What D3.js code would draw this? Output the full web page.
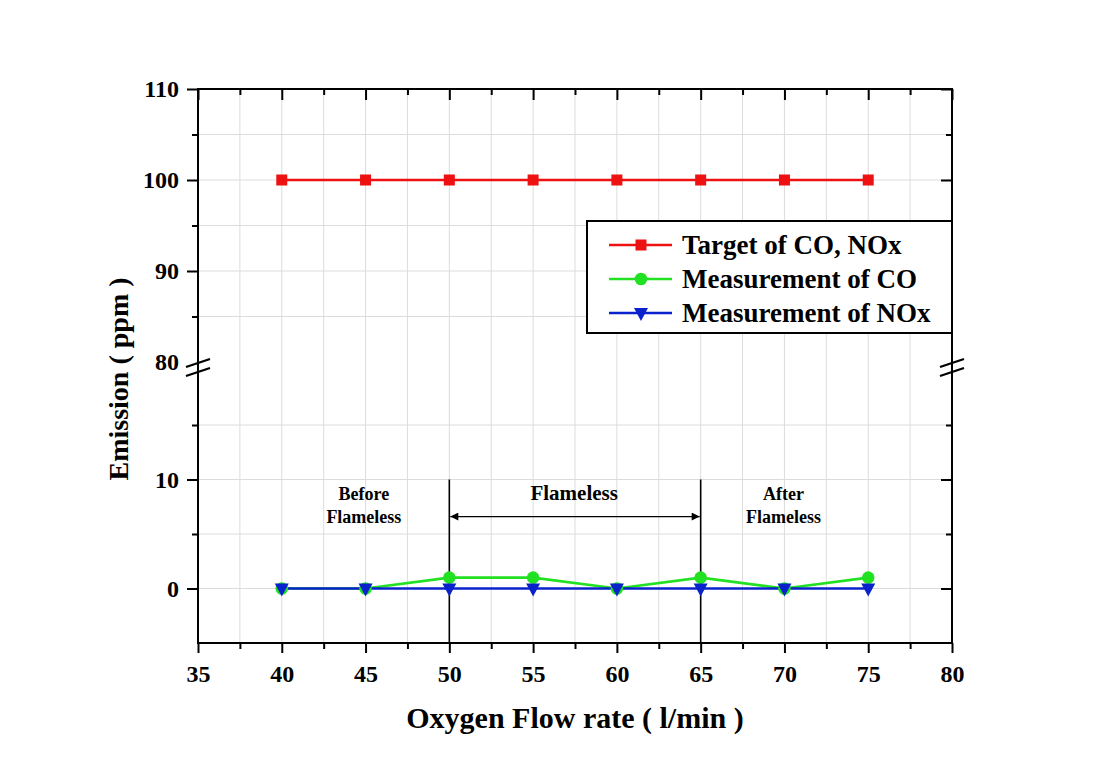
<!DOCTYPE html>
<html><head><meta charset="utf-8">
<script src="https://cdn.jsdelivr.net/npm/d3@7"></script>
<style>body{margin:0;background:#fff}svg{display:block}</style>
</head><body><svg id="c" width="1106" height="773"></svg>
<script>
const flow = [40, 45, 50, 55, 60, 65, 70, 75];
const targetCO_NOx = [100, 100, 100, 100, 100, 100, 100, 100];
const measCO = [0, 0, 1, 1, 0, 1, 0, 1];
const measNOx = [0, 0, 0, 0, 0, 0, 0, 0];
const xTicks = [35, 40, 45, 50, 55, 60, 65, 70, 75, 80];
const yUpperTicks = [80, 90, 100, 110];
const yLowerTicks = [0, 10];
const seriesNames = ["Target of CO, NOx", "Measurement of CO", "Measurement of NOx"];
const regionLabels = [["Before", "Flameless"], ["Flameless"], ["After", "Flameless"]];

const FONT = "'Liberation Serif','Times New Roman',serif";
const svg = d3.select("#c");
const L = 198, R = 952, T = 89, B = 643;
const x = d3.scaleLinear().domain([35, 80]).range([L, R]);
const yUp = d3.scaleLinear().domain([80, 110]).range([362, T]);
const yLow = d3.scaleLinear().domain([-5, 20]).range([B, 370.5]);
const y = v => v >= 50 ? yUp(v) : yLow(v);

const colors = ["#ee1111", "#22e022", "#0a22cc"];

// grid
const g = svg.append("g");
const xMinor = d3.range(37.5, 80, 2.5);
g.selectAll(".vg").data(xMinor).join("line")
  .attr("x1", d => x(d)).attr("x2", d => x(d)).attr("y1", T).attr("y2", B)
  .attr("stroke", "#dcdcdc").attr("stroke-width", 1);
const hUp = [85, 90, 95, 100, 105], hLow = [0, 5, 10, 15];
g.selectAll(".hu").data(hUp).join("line")
  .attr("x1", L).attr("x2", R).attr("y1", d => yUp(d)).attr("y2", d => yUp(d))
  .attr("stroke", "#dcdcdc");
g.selectAll(".hl").data(hLow).join("line")
  .attr("x1", L).attr("x2", R).attr("y1", d => yLow(d)).attr("y2", d => yLow(d))
  .attr("stroke", "#dcdcdc");

function styleAxis(sel) {
  sel.select(".domain").remove();
  sel.selectAll("line").attr("stroke", "#000").attr("stroke-width", 2);
  sel.selectAll("text").attr("font-family", FONT).attr("font-weight", "bold").attr("font-size", 24).attr("fill", "#000");
}
const xMinorOnly = xMinor.filter(d => d % 5 !== 0);
// bottom
svg.append("g").attr("transform", `translate(0,${B})`)
  .call(d3.axisBottom(x).tickValues(xTicks).tickSize(10).tickPadding(12)).call(styleAxis);
svg.append("g").attr("transform", `translate(0,${B})`)
  .call(d3.axisBottom(x).tickValues(xMinorOnly).tickSize(6).tickFormat("")).call(styleAxis);
// top (inward)
svg.append("g").attr("transform", `translate(0,${T})`)
  .call(d3.axisTop(x).tickValues(xTicks).tickSize(-11).tickFormat("")).call(styleAxis);
svg.append("g").attr("transform", `translate(0,${T})`)
  .call(d3.axisTop(x).tickValues(xMinorOnly).tickSize(-6).tickFormat("")).call(styleAxis);
// left
svg.append("g").attr("transform", `translate(${L},0)`)
  .call(d3.axisLeft(yUp).tickValues(yUpperTicks.filter(d => d > 80)).tickSize(11).tickPadding(8)).call(styleAxis);
svg.append("g").attr("transform", `translate(${L},0)`)
  .call(d3.axisLeft(yUp).tickValues([80]).tickSize(0).tickPadding(19)).call(styleAxis);
svg.append("g").attr("transform", `translate(${L},0)`)
  .call(d3.axisLeft(yUp).tickValues([85, 95, 105]).tickSize(6).tickFormat("")).call(styleAxis);
svg.append("g").attr("transform", `translate(${L},0)`)
  .call(d3.axisLeft(yLow).tickValues(yLowerTicks).tickSize(11).tickPadding(8)).call(styleAxis);
svg.append("g").attr("transform", `translate(${L},0)`)
  .call(d3.axisLeft(yLow).tickValues([5, 15]).tickSize(6).tickFormat("")).call(styleAxis);
// right (inward)
svg.append("g").attr("transform", `translate(${R},0)`)
  .call(d3.axisLeft(yUp).tickValues([90, 100, 110]).tickSize(11).tickFormat("")).call(styleAxis);
svg.append("g").attr("transform", `translate(${R},0)`)
  .call(d3.axisLeft(yUp).tickValues([85, 95, 105]).tickSize(6).tickFormat("")).call(styleAxis);
svg.append("g").attr("transform", `translate(${R},0)`)
  .call(d3.axisLeft(yLow).tickValues(yLowerTicks).tickSize(11).tickFormat("")).call(styleAxis);
svg.append("g").attr("transform", `translate(${R},0)`)
  .call(d3.axisLeft(yLow).tickValues([5, 15]).tickSize(6).tickFormat("")).call(styleAxis);

// frame
svg.append("rect").attr("x", L).attr("y", T).attr("width", R - L).attr("height", B - T)
  .attr("fill", "none").attr("stroke", "#000").attr("stroke-width", 2);

// break marks
[L, R].forEach(ax => {
  [363, 372].forEach(cy => {
    svg.append("line").attr("x1", ax - 12).attr("y1", cy + 4).attr("x2", ax + 12).attr("y2", cy - 4)
      .attr("stroke", "#000").attr("stroke-width", 2.2);
  });
});

// region lines and arrow
[50, 65].forEach(v => {
  svg.append("line").attr("x1", x(v)).attr("x2", x(v)).attr("y1", yLow(10)).attr("y2", B)
    .attr("stroke", "#000").attr("stroke-width", 1.6);
});
const defs = svg.append("defs");
defs.append("marker").attr("id", "ah").attr("viewBox", "0 0 10 10").attr("refX", 10).attr("refY", 5)
  .attr("markerWidth", 14).attr("markerHeight", 8).attr("markerUnits", "userSpaceOnUse").attr("orient", "auto-start-reverse")
  .append("path").attr("d", "M0,0 L10,5 L0,10 Z").attr("fill", "#000");
svg.append("line").attr("x1", x(50) + 1).attr("x2", x(65) - 1).attr("y1", yLow(6.6)).attr("y2", yLow(6.6))
  .attr("stroke", "#000").attr("stroke-width", 1.3)
  .attr("marker-start", "url(#ah)").attr("marker-end", "url(#ah)");

// region labels
const labelPos = [[44.9, 18], [57.45, 21], [69.95, 18]];
regionLabels.forEach((lines, i) => {
  const t = svg.append("text").attr("x", x(labelPos[i][0])).attr("text-anchor", "middle")
    .attr("font-family", FONT).attr("font-weight", "bold").attr("font-size", labelPos[i][1]);
  lines.forEach((s, j) => t.append("tspan").attr("x", x(labelPos[i][0])).attr("y", 500 + j * 23).text(s));
});

// series
const data = [targetCO_NOx, measCO, measNOx];
const line = d3.line().x(d => x(d[0])).y(d => y(d[1]));
data.forEach((vals, i) => {
  svg.append("path").datum(flow.map((f, k) => [f, vals[k]]))
    .attr("d", line).attr("fill", "none").attr("stroke", colors[i]).attr("stroke-width", 2.6);
});
function marker(sel, i, cx, cy) {
  if (i === 0) sel.append("rect").attr("x", cx - 5.5).attr("y", cy - 5.5).attr("width", 11).attr("height", 11).attr("fill", colors[0]);
  else if (i === 1) sel.append("circle").attr("cx", cx).attr("cy", cy).attr("r", 6.3).attr("fill", colors[1]);
  else sel.append("path").attr("d", `M${cx - 7},${cy - 5} L${cx + 7},${cy - 5} L${cx},${cy + 8} Z`).attr("fill", colors[2]);
}
data.forEach((vals, i) => {
  const gm = svg.append("g");
  flow.forEach((f, k) => marker(gm, i, x(f), y(vals[k])));
});

// legend
const lg = svg.append("g");
lg.append("rect").attr("x", 587).attr("y", 221).attr("width", R - 587).attr("height", 112)
  .attr("fill", "#fff").attr("stroke", "#000").attr("stroke-width", 2);
seriesNames.forEach((n, i) => {
  const cy = 245 + i * 34;
  lg.append("line").attr("x1", 609).attr("x2", 672).attr("y1", cy).attr("y2", cy)
    .attr("stroke", colors[i]).attr("stroke-width", 2.6);
  marker(lg, i, 641, cy);
  lg.append("text").attr("x", 682).attr("y", cy + 9).text(n)
    .attr("font-family", FONT).attr("font-weight", "bold").attr("font-size", 27);
});

// axis titles
svg.append("text").attr("x", 575).attr("y", 728).attr("text-anchor", "middle")
  .attr("font-family", FONT).attr("font-weight", "bold").attr("font-size", 30)
  .text("Oxygen Flow rate ( l/min )");
svg.append("text").attr("transform", `translate(128,379) rotate(-90)`).attr("text-anchor", "middle")
  .attr("font-family", FONT).attr("font-weight", "bold").attr("font-size", 28)
  .text("Emission ( ppm )");
</script></body></html>
